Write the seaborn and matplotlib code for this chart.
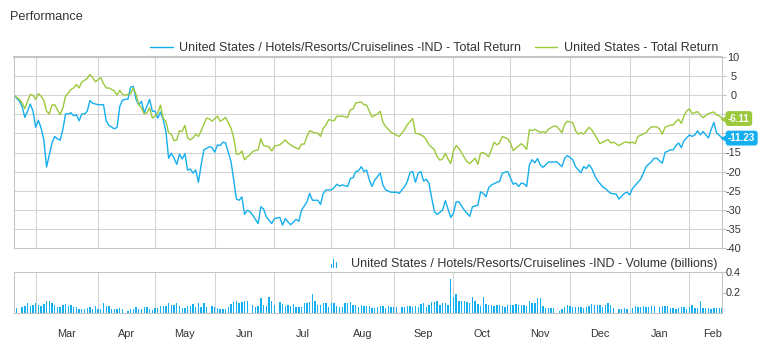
import numpy as np
import pandas as pd
import matplotlib
matplotlib.use("Agg")
import matplotlib.pyplot as plt
import matplotlib.transforms as mtransforms
from matplotlib.lines import Line2D
from matplotlib.patches import Rectangle
from matplotlib.legend_handler import HandlerBase
import seaborn as sns

# ---------------- data ----------------
start_date = "2022-02-17"
end_date = "2023-02-17"

series_names = ["United States / Hotels/Resorts/Cruiselines -IND - Total Return",
                "United States - Total Return"]
volume_name = "United States / Hotels/Resorts/Cruiselines -IND - Volume (billions)"
chart_title = "Performance"
month_labels = ["Mar", "Apr", "May", "Jun", "Jul", "Aug", "Sep", "Oct", "Nov", "Dec", "Jan", "Feb"]
ret_ticks = [10, 5, 0, -5, -10, -15, -20, -25, -30, -35, -40]
# -5 and -10 sit under the last-value badges in the reference, so they show no text
ret_tick_labels = ["10", "5", "0", "", "", "-15", "-20", "-25", "-30", "-35", "-40"]
vol_ticks = [0.2, 0.4]
vol_tick_labels = ["0.2", "0.4"]

# total return (%) per trading session (None = not read)
hotel_ret = [
    0, None, -1.6, -3.0, -5.8, -4.2, -2.3, -4.2, -8.4, -6.6,
    -8.6, -11.7, -18.8, -15.6, -12.5, -10.8, -11.4, -11.8, -9.0, -4.9,
    -4.9, -4.6, -5.4, -5.1, -6.7, -4.9, -4.9, -4.2, -1.4, -2.1,
    None, -2.5, None, -2.5, -6.7, -7.9, None, -8.8, -8.4, -2.9,
    -1.3, -1.1, -1.0, 2.1, 2.3, -1.1, -2.5, -1.6, -4.6, -2.9,
    -1.1, -4.2, -4.2, -6.0, -4.4, -6.4, -9.5, -16.5, -15.2, -16.5,
    -18.1, -15.4, -16.7, -15.3, -19.6, -19.3, -20.4, -19.6, -22.8, -18.2,
    -14.3, None, -13.5, -13.7, -14.9, -13.0, -13.2, -12.3, -12.5, None,
    -17.4, -22.2, -27.2, -27.5, -26.6, -31.2, -30.1, -30.5, -31.4, None,
    -33.6, -29.2, -29.8, -31.8, None, -33.6, -32.3, None, -32.0, -34.0,
    -32.3, -33.2, -33.9, None, -32.5, -33.0, -30.1, None, -27.9, -25.7,
    -27.5, None, -27.5, -28.6, -25.7, -24.8, None, -24.8, -24.2, -23.3,
    -23.8, -23.5, None, -23.9, -21.8, -21.6, -20.0, -19.8, -18.7, -20.0,
    -19.6, -22.2, -23.9, -22.2, None, -20.4, -23.5, -24.8, None, -25.4,
    None, -25.4, -25.7, None, -23.9, -22.6, -20.2, -20.0, -22.8, -20.4,
    -20.0, -22.5, -22.0, -23.1, -27.0, -30.5, -31.2, None, -30.1, -27.6,
    -29.8, -32.0, -30.9, -27.9, -27.9, None, -30.1, None, -31.7, -29.2,
    None, -28.8, -25.3, -25.7, -26.6, -24.2, -23.5, None, -22.8, -22.6,
    -20.4, None, -20.0, -21.6, -23.3, -23.0, -23.9, -23.0, -23.2, -23.9,
    -18.2, -16.9, -17.7, -16.6, -18.2, -18.9, -18.2, -17.5, None, -17.5,
    -17.4, None, -18.7, -16.5, -15.8, None, -16.9, -18.7, None, -20.3,
    -18.7, -19.2, -18.2, -19.2, -20.9, -22.2, None, -24.0, -24.4, -25.1,
    -25.7, None, -25.9, -27.2, None, -25.7, -25.4, -26.1, -24.4, None,
    -22.8, -22.0, -20.4, -18.7, None, -17.4, -16.5, -16.5, -17.2, -17.8,
    -15.0, None, -14.3, -14.3, -13.2, -12.5, -13.7, -11.9, None, -10.4,
    -10.8, -10.4, -9.3, -10.4, -9.5, None, -11.2, -9.0, -7.1, -9.9,
    -10.5, -11.23,
]

market_ret = [
    0, None, -1.1, -2.0, -3.5, -1.6, 0.2, 0.0, -1.1, 0.4,
    -0.3, -1.4, -4.2, -4.9, -2.6, -2.5, -3.8, -5.1, -3.3, -0.3,
    None, 1.5, 1.9, 2.8, 1.9, 3.5, 3.9, 4.4, 5.4, 4.6,
    3.5, None, 4.6, 3.0, 1.9, 1.9, None, 1.1, 0.0, 1.3,
    0.2, 0.0, None, 0.4, 1.9, 0.2, -2.5, -3.3, -4.9, -4.6,
    -3.3, -6.0, -5.5, -4.6, -2.6, -6.1, -6.8, -9.9, -10.2, -11.9,
    -11.7, -9.3, -9.5, -7.9, -11.2, -11.7, -11.2, -10.2, -10.8, -9.3,
    None, -6.0, -6.2, -6.8, None, -5.5, -6.8, -6.4, -5.8, None,
    -8.6, -11.2, -15.4, -15.4, -14.6, -16.9, -16.1, -15.6, -14.7, None,
    -14.3, -11.4, -13.2, None, -13.5, -14.6, -13.3, None, -13.0, None,
    -11.7, -12.5, None, -13.5, None, -14.1, -12.8, -12.8, -10.8, -9.3,
    None, -9.9, -9.9, -10.8, -8.6, -7.8, -6.4, None, -6.7, -5.5,
    None, -5.5, None, -5.8, -3.8, -3.6, -2.0, None, -1.8, -2.5,
    -2.6, -4.2, -5.7, None, -4.9, -4.2, -7.1, -8.2, None, -9.7,
    None, -10.5, -10.8, None, -9.0, -7.7, None, -6.1, -9.9, None,
    -10.4, -10.8, -11.7, -13.0, None, -14.3, -16.1, -17.0, -16.7, -15.2,
    -16.7, -17.9, -14.6, -13.2, -13.9, None, -16.3, -17.4, -17.9, None,
    -16.5, -18.1, -15.2, -15.0, None, -16.1, -14.3, -12.3, -13.0, -12.5,
    -10.8, None, -11.4, -12.5, -14.5, None, -13.3, -12.7, -13.3, -14.2,
    -9.0, -9.3, -8.9, None, -9.8, -9.5, -9.8, -8.9, None, -8.1,
    -8.1, None, -9.8, -7.6, -6.8, None, -7.2, -9.3, -10.2, -9.8,
    -10.2, None, -8.4, -9.1, None, -11.4, -12.7, -12.3, None, -11.6,
    -12.5, -12.3, None, -13.2, None, -12.3, -12.3, -12.5, -12.3, -12.7,
    -10.8, -10.5, None, -9.8, -8.9, -8.3, None, -8.3, -8.9, -10.2,
    -8.4, None, -7.8, -7.8, -6.9, -6.3, -7.4, -5.4, -4.1, -3.6,
    -4.8, None, -4.3, -5.2, -5.9, None, -4.8, -4.6, -4.4, -5.2,
    -5.4, -6.11,
]

# volume (billions) per trading session (None = market holiday)
volume_bn = [
    0.05, 0.05, None, 0.06, 0.07, 0.10, 0.065, 0.08, 0.10, 0.075,
    0.07, 0.09, 0.12, 0.12, 0.095, 0.075, 0.055, 0.055, 0.075, 0.09,
    0.065, 0.08, 0.055, 0.06, 0.04, 0.04, 0.04, 0.05, 0.06, 0.04,
    0.07, 0.04, 0.035, 0.10, 0.07, 0.07, 0.04, 0.04, 0.04, 0.05,
    0.04, None, 0.02, 0.04, 0.04, 0.06, 0.04, 0.04, 0.06, 0.055,
    0.04, 0.03, 0.05, 0.05, 0.07, 0.07, 0.07, 0.095, 0.08, 0.075,
    0.095, 0.07, 0.05, 0.05, 0.07, 0.07, 0.085, 0.06, 0.10, 0.06,
    0.10, 0.06, None, 0.07, 0.06, 0.05, 0.04, 0.04, 0.04, 0.06,
    0.09, 0.11, 0.12, 0.095, 0.11, 0.12, 0.12, None, 0.075, 0.06,
    0.07, 0.145, 0.08, 0.07, 0.155, 0.12, 0.08, None, 0.11, 0.09,
    0.07, 0.075, 0.065, 0.09, 0.06, 0.06, 0.06, 0.10, 0.095, 0.105,
    0.185, 0.12, 0.075, 0.08, 0.10, 0.10, 0.06, 0.10, 0.10, 0.07,
    0.06, 0.06, 0.10, 0.095, 0.11, 0.08, 0.075, 0.055, 0.08, 0.07,
    0.07, 0.065, 0.05, 0.05, 0.06, 0.07, 0.07, 0.05, 0.07, 0.06,
    0.06, 0.06, None, 0.06, 0.06, 0.07, 0.07, 0.06, 0.07, 0.06,
    0.09, 0.10, 0.06, 0.08, 0.11, 0.105, 0.12, 0.08, 0.095, 0.095,
    0.08, 0.33, 0.155, 0.185, 0.12, 0.12, 0.12, 0.11, 0.10, 0.155,
    0.12, 0.09, 0.07, 0.155, 0.09, 0.08, 0.08, 0.07, 0.08, 0.08,
    0.07, 0.06, 0.075, 0.08, 0.08, 0.09, 0.08, 0.075, 0.08, 0.07,
    0.12, 0.10, 0.10, 0.145, 0.145, 0.07, 0.05, 0.05, 0.05, 0.05,
    None, 0.02, 0.04, 0.06, 0.08, 0.07, 0.055, 0.06, 0.06, 0.06,
    0.05, 0.06, 0.07, 0.09, 0.08, 0.075, 0.075, 0.06, 0.075, 0.10,
    0.08, 0.05, None, 0.04, 0.04, 0.05, 0.04, None, 0.05, 0.07,
    0.055, 0.055, 0.07, 0.06, 0.06, 0.07, 0.065, None, 0.06, 0.07,
    0.065, 0.065, 0.045, 0.045, 0.04, 0.05, 0.06, 0.055, 0.04, 0.06,
    0.08, 0.05, 0.05, 0.115, 0.05, 0.05, 0.05, 0.04, 0.05, 0.05,
    0.05, 0.045,
]

# ---------------- style ----------------
BLUE = "#15aeee"
GREEN = "#9cc83c"
GRID = "#d3d3d3"
AXIS = "#c4c4c4"
TEXT = "#333333"

sns.set_theme(style="white")
plt.rcParams["font.family"] = ["Liberation Sans", "DejaVu Sans"]
plt.rcParams["axes.unicode_minus"] = False

# ---------------- frames ----------------
days = pd.bdate_range(start_date, end_date)
n = len(days)
session = np.arange(n)

ret = pd.DataFrame({
    "session": session,
    "date": days,
    series_names[0]: np.array(hotel_ret, dtype=float),
    series_names[1]: np.array(market_ret, dtype=float),
})
ret_long = ret.melt(id_vars=["session", "date"], var_name="series",
                    value_name="ret").dropna()

vol = pd.DataFrame({"session": session, "date": days,
                    "volume": np.array(volume_bn, dtype=float)}).dropna()

month_start = np.flatnonzero(days.month != np.roll(days.month, 1))

# ---------------- figure ----------------
FW, FH = 764, 357
fig = plt.figure(figsize=(FW / 100, FH / 100), dpi=100)
fig.patch.set_facecolor("white")
ax = fig.add_axes([14 / FW, 1 - 248 / FH, 708 / FW, 191 / FH])
axv = fig.add_axes([14 / FW, 1 - 313 / FH, 708 / FW, 41 / FH])

sns.lineplot(data=ret_long, x="session", y="ret", hue="series",
             hue_order=series_names, palette=[BLUE, GREEN],
             estimator=None, errorbar=None, linewidth=1.0,
             legend=False, ax=ax)

sns.barplot(data=vol, x="session", y="volume", native_scale=True,
            color=BLUE, saturation=1, width=0.5, errorbar=None,
            linewidth=0, ax=axv)

for a in (ax, axv):
    a.set_xlim(0, n - 1)
    a.set_xlabel("")
    a.set_ylabel("")
    a.set_xticks(month_start)
    a.set_xticklabels([])
    a.yaxis.tick_right()
    a.set_axisbelow(True)
    for s in a.spines.values():
        s.set_color(AXIS)
        s.set_linewidth(0.75)
        s.set_visible(True)
    a.tick_params(axis="y", which="major", length=2.9, width=0.75, color=AXIS,
                  pad=5.2, labelsize=7.8, labelcolor=TEXT, direction="out",
                  left=False, right=True, labelleft=False, labelright=True)

# main panel
ax.set_ylim(-40, 10)
ax.set_yticks(ret_ticks)
ax.set_yticklabels(ret_tick_labels)
ax.grid(True, axis="both", color=GRID, linewidth=0.75)
ax.tick_params(axis="x", length=0)
ax.spines["top"].set_linewidth(1.5)

# volume panel
axv.set_ylim(0, 0.4)
axv.set_yticks(vol_ticks)
axv.set_yticklabels(vol_tick_labels)
axv.grid(True, axis="x", color=GRID, linewidth=0.75)
axv.grid(False, axis="y")
axv.tick_params(axis="x", length=4.3, width=0.75, color=AXIS, direction="out")

for a in (ax, axv):
    plt.setp(a.get_yticklabels(), ha="center")

# month labels centred in each month
mtrans = mtransforms.blended_transform_factory(axv.transData, axv.transAxes)
for i, lab in enumerate(month_labels):
    if i + 1 < len(month_start):
        xm = (month_start[i] + month_start[i + 1]) / 2
        axv.text(xm, -0.51, lab, transform=mtrans, ha="center", va="center",
                 fontsize=7.8, color=TEXT)
    else:
        axv.text(n - 1, -0.51, lab, transform=mtrans, ha="right", va="center",
                 fontsize=7.8, color=TEXT)

# last-value badges
btrans = mtransforms.blended_transform_factory(ax.transAxes, ax.transData)
for val, col in [(market_ret[-1], GREEN), (hotel_ret[-1], BLUE)]:
    ax.plot([1.0042], [val], marker="<", ms=6, color=col, transform=btrans,
            clip_on=False, zorder=10)
    ax.text(1.0085, val, f"{val:.2f}", transform=btrans, ha="left", va="center",
            fontsize=7, fontweight="bold", color="white", zorder=11, clip_on=False,
            bbox=dict(boxstyle="round,pad=0.25,rounding_size=0.3", fc=col,
                      ec="none"))

# title
fig.text(10 / FW, 1 - 17.5 / FH, chart_title, ha="left", va="center",
         fontsize=9.2, color=TEXT)

# main legend
handles = [Line2D([], [], color=BLUE, lw=1.0), Line2D([], [], color=GREEN, lw=1.0)]
fig.legend(handles, series_names, loc="center right",
           bbox_to_anchor=(718 / FW, 1 - 48 / FH), bbox_transform=fig.transFigure,
           ncol=2, frameon=False, fontsize=9, labelcolor=TEXT,
           handlelength=1.8, handletextpad=0.5, columnspacing=1.1,
           borderpad=0, borderaxespad=0)


class VolumeIcon(HandlerBase):
    def create_artists(self, legend, orig_handle, xdescent, ydescent,
                       width, height, fontsize, trans):
        arts = []
        for i, frac in enumerate([0.45, 1.0, 0.62]):
            arts.append(Rectangle((-xdescent + i * 1.8, -ydescent), 0.8,
                                  height * frac, facecolor=BLUE,
                                  edgecolor="none", transform=trans))
        return arts


vol_handle = Rectangle((0, 0), 1, 1)
fig.legend([vol_handle], [volume_name], handler_map={Rectangle: VolumeIcon()},
           loc="center right", bbox_to_anchor=(717 / FW, 1 - 264.5 / FH),
           bbox_transform=fig.transFigure, frameon=False, fontsize=9,
           labelcolor=TEXT, handlelength=1.45, handletextpad=0.15,
           borderpad=0, borderaxespad=0)

fig.savefig("out.png", dpi=100, facecolor="white")
